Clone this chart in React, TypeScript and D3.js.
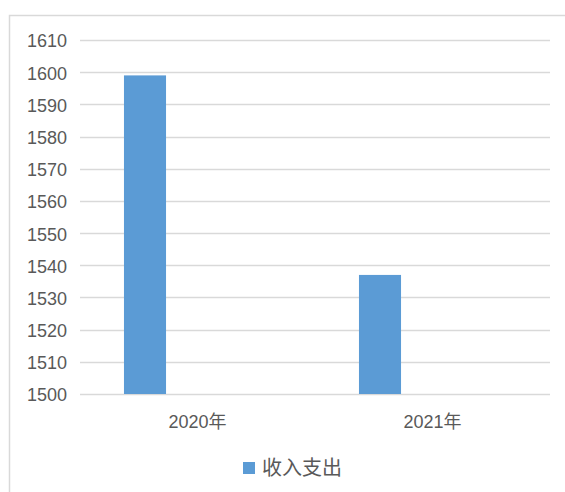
import { useEffect, useRef } from "react";
import * as d3 from "d3";

// data
const CATEGORIES = ["2020年", "2021年"];
const SERIES_NAME = "收入支出";
const VALUES = [1599, 1537];
const Y_TICKS = [1500, 1510, 1520, 1530, 1540, 1550, 1560, 1570, 1580, 1590, 1600, 1610];

const W = 565;
const H = 492;
const M = { top: 40, right: 15, bottom: 98, left: 80 };
const FONT = "'Liberation Sans', 'Noto Sans CJK SC', sans-serif";
const TEXT = "#595959";
const GRID = "#d9d9d9";
const BAR = "#5b9bd5";

export default function App() {
  const svgRef = useRef<SVGSVGElement | null>(null);

  useEffect(() => {
    const svg = d3.select(svgRef.current);
    svg.selectAll("*").remove();

    const x = d3
      .scaleBand<string>()
      .domain(CATEGORIES)
      .range([M.left, W - M.right]);
    const y = d3
      .scaleLinear()
      .domain([1500, 1610])
      .range([H - M.bottom, M.top]);

    // outer chart frame (cut off at right and bottom)
    svg
      .append("rect")
      .attr("x", 9.5)
      .attr("y", 15.5)
      .attr("width", W + 20)
      .attr("height", H + 20)
      .attr("fill", "#fff")
      .attr("stroke", GRID)
      .attr("stroke-width", 1.5);

    // gridlines + tick labels
    const grid = svg.append("g");
    grid
      .selectAll("line")
      .data(Y_TICKS)
      .join("line")
      .attr("x1", M.left)
      .attr("x2", W - M.right)
      .attr("y1", (d) => Math.round(y(d)) + 0.5)
      .attr("y2", (d) => Math.round(y(d)) + 0.5)
      .attr("stroke", GRID)
      .attr("stroke-width", 1.5);
    grid
      .selectAll("text")
      .data(Y_TICKS)
      .join("text")
      .attr("x", M.left - 13)
      .attr("y", (d) => y(d) + 1)
      .attr("dy", "0.36em")
      .attr("text-anchor", "end")
      .attr("font-family", FONT)
      .attr("font-size", 18)
      .attr("fill", TEXT)
      .text((d) => d);

    // bars sit left of the category centre (second series slot is empty)
    const bw = x.bandwidth() * 0.179;
    const off = x.bandwidth() * 0.5 - x.bandwidth() * 0.2234 - bw / 2;
    svg
      .append("g")
      .selectAll("rect")
      .data(VALUES)
      .join("rect")
      .attr("x", (_d, i) => (x(CATEGORIES[i]) ?? 0) + off)
      .attr("y", (d) => y(d))
      .attr("width", bw)
      .attr("height", (d) => y(1500) - y(d))
      .attr("fill", BAR);

    // category labels
    svg
      .append("g")
      .selectAll("text")
      .data(CATEGORIES)
      .join("text")
      .attr("x", (d) => (x(d) ?? 0) + x.bandwidth() / 2)
      .attr("y", y(1500) + 28)
      .attr("dy", "0.36em")
      .attr("text-anchor", "middle")
      .attr("font-family", FONT)
      .attr("font-size", 18)
      .attr("fill", TEXT)
      .text((d) => d);

    // legend
    const lg = svg.append("g").attr("transform", `translate(243, 468)`);
    lg.append("rect")
      .attr("x", 0)
      .attr("y", -6)
      .attr("width", 12)
      .attr("height", 12)
      .attr("fill", BAR);
    lg.append("text")
      .attr("x", 19)
      .attr("y", 0)
      .attr("dy", "0.36em")
      .attr("font-family", FONT)
      .attr("font-size", 20)
      .attr("fill", TEXT)
      .text(SERIES_NAME);
  }, []);

  return (
    <svg
      ref={svgRef}
      width={W}
      height={H}
      style={{ position: "absolute", left: 0, top: 0, background: "#fff" }}
    />
  );
}
